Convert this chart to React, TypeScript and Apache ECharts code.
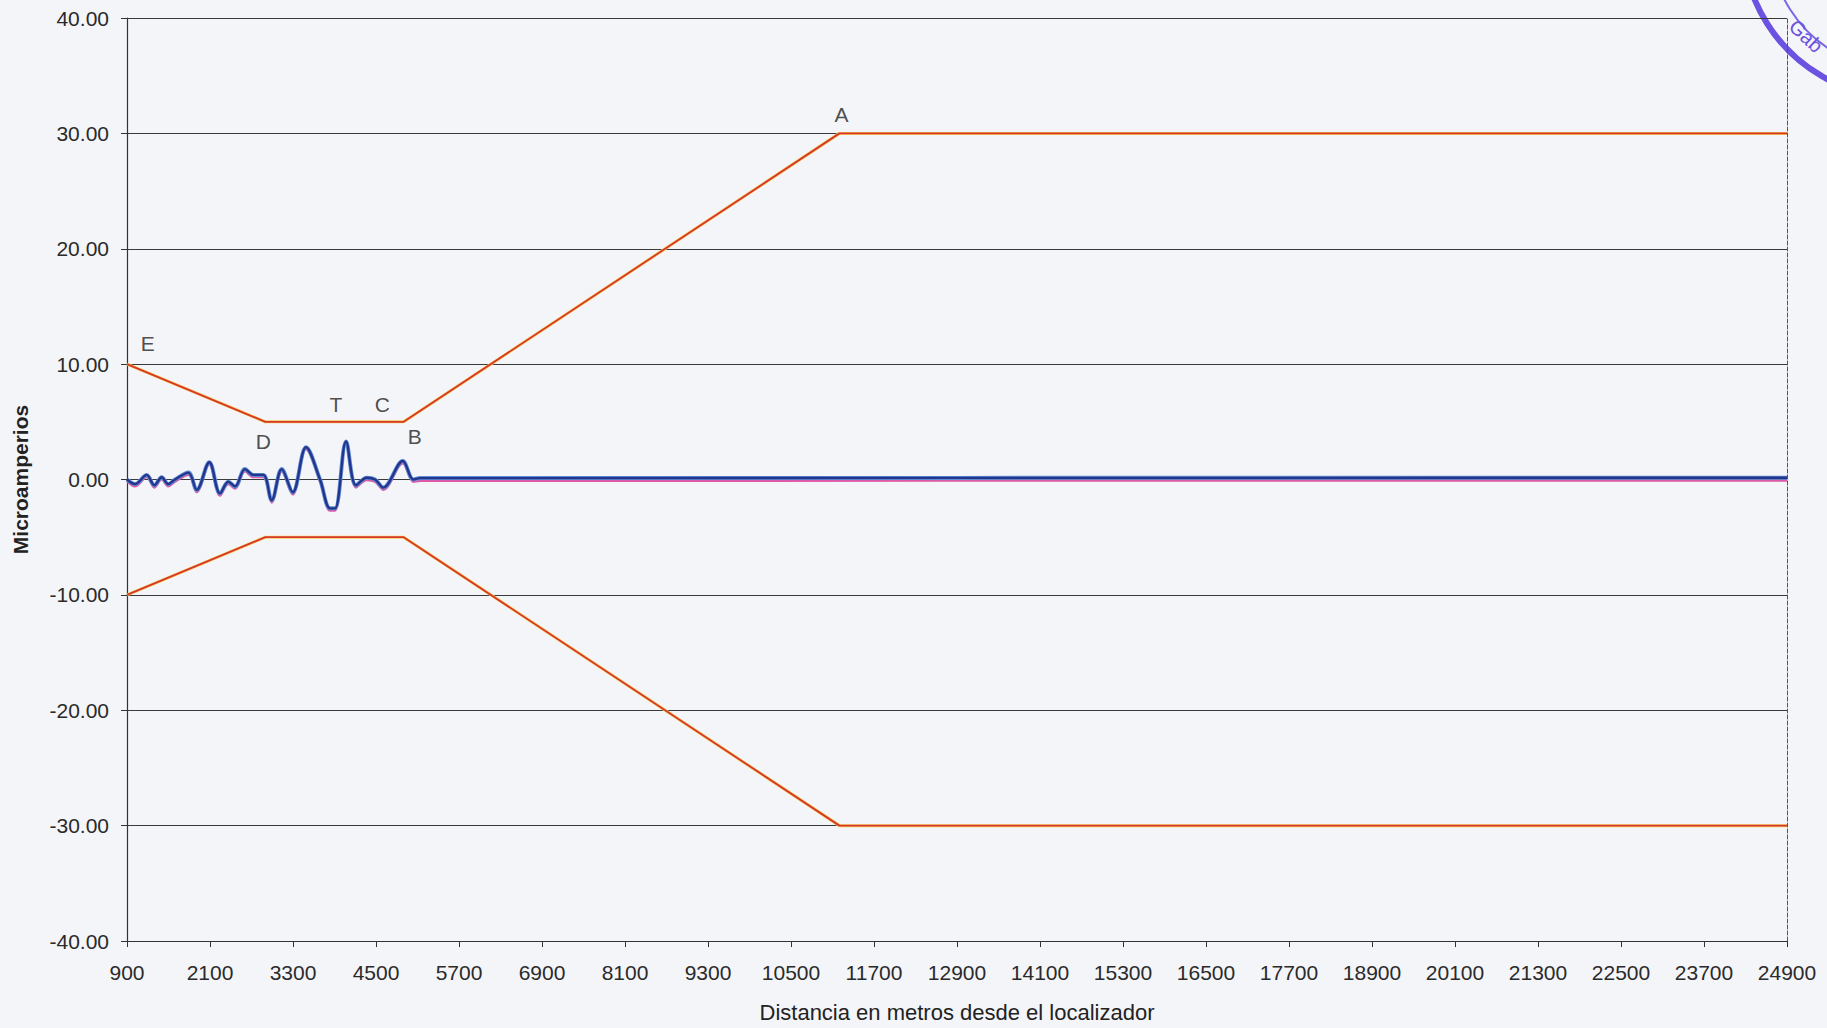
import React, { useEffect, useRef } from "react";
import * as echarts from "echarts";

// Axis ticks
const xMin = 900;
const xMax = 24900;
const xStep = 1200;
const yMin = -40;
const yMax = 40;
const yStep = 10;

// Limit lines (distance in metres, microamperes)
const limitX = [900, 2900, 4900, 11200, 24900];
const upperLimit = [10, 5, 5, 30, 30];
const lowerLimit = [-10, -5, -5, -30, -30];

// Measured signals
const distX = [900, 1016, 1185, 1295, 1401, 1497, 1594, 1787, 1908, 2090, 2245, 2365, 2462, 2606, 2727, 2871, 2992, 3137, 3296, 3488, 3691, 3835, 3908, 4067, 4211, 4366, 4486, 4606, 4887, 5040, 5137, 24900];
const blueVals = [0.0, -0.4, 0.4, -0.5, 0.2, -0.4, 0.0, 0.6, -0.9, 1.5, -1.2, -0.2, -0.6, 0.9, 0.4, 0.4, -1.8, 0.9, -1.1, 2.8, 0.0, -2.5, -2.5, 3.3, -0.5, 0.15, 0.0, -0.7, 1.6, 0.0, 0.12, 0.15];
const magentaVals = [-0.15, -0.6, 0.2, -0.7, 0.0, -0.6, -0.2, 0.4, -1.1, 1.3, -1.4, -0.4, -0.8, 0.7, 0.2, 0.2, -2.0, 0.7, -1.3, 2.6, -0.2, -2.7, -2.7, 3.1, -0.7, -0.05, -0.2, -0.9, 1.4, -0.2, -0.12, -0.1];

// Point annotations
const markLabels = ["E", "D", "T", "C", "B", "A"];
const markX = [1200, 2870, 3920, 4590, 5060, 11230];
const markY = [11.8, 3.3, 6.5, 6.5, 3.7, 31.6];

const FONT = "Liberation Sans, Arial, sans-serif";

export default function App() {
  const ref = useRef<HTMLDivElement>(null);
  useEffect(() => {
    if (!ref.current) return;
    const chart = echarts.init(ref.current, undefined, { renderer: "svg" });
    const pair = (xs: number[], ys: number[]) => xs.map((x, i) => [x, ys[i]]);
    chart.setOption({
      animation: false,
      backgroundColor: "#f4f5f9",
      textStyle: { fontFamily: FONT },
      grid: { left: 127, right: 40, top: 18, bottom: 81, containLabel: false },
      xAxis: {
        type: "value",
        min: xMin,
        max: xMax,
        interval: xStep,
        name: "Distancia en metros desde el localizador",
        nameLocation: "middle",
        nameGap: 60,
        nameTextStyle: { fontSize: 22, color: "#222", fontFamily: FONT },
        axisLine: { show: true, onZero: false, lineStyle: { color: "#333", width: 1.2 } },
        axisTick: { show: true, inside: false, length: 6, lineStyle: { color: "#333" } },
        axisLabel: {
          fontSize: 21,
          color: "#2a2a2a",
          margin: 21,
          fontFamily: FONT,
          formatter: (v: number) => String(v),
        },
        splitLine: { show: false },
      },
      yAxis: [
        {
          type: "value",
          min: yMin,
          max: yMax,
          interval: yStep,
          name: "Microamperios",
          nameLocation: "middle",
          nameGap: 96,
          nameTextStyle: { fontSize: 21, fontWeight: "bold", color: "#222", fontFamily: FONT },
          axisLine: { show: true, onZero: false, lineStyle: { color: "#333", width: 1.2 } },
          axisTick: { show: true, inside: false, length: 6, lineStyle: { color: "#333" } },
          axisLabel: {
            fontSize: 21,
            color: "#2a2a2a",
            margin: 18,
            fontFamily: FONT,
            formatter: (v: number) => v.toFixed(2),
          },
          splitLine: { show: true, lineStyle: { color: "#3a3a3a", width: 1 } },
        },
        {
          type: "value",
          min: yMin,
          max: yMax,
          interval: yStep,
          position: "right",
          axisLine: { show: true, onZero: false, lineStyle: { color: "#555", width: 1, type: "dashed" } },
          axisTick: { show: false },
          axisLabel: { show: false },
          splitLine: { show: false },
        },
      ],
      series: [
        {
          name: "Límite superior (halo)",
          type: "line",
          data: pair(limitX, upperLimit),
          showSymbol: false,
          lineStyle: { color: "#f6cc55", width: 3 },
          z: 2,
        },
        {
          name: "Límite superior",
          type: "line",
          data: pair(limitX, upperLimit),
          showSymbol: false,
          lineStyle: { color: "#d6392b", width: 1.8 },
          z: 3,
        },
        {
          name: "Límite inferior (halo)",
          type: "line",
          data: pair(limitX, lowerLimit),
          showSymbol: false,
          lineStyle: { color: "#f6cc55", width: 3 },
          z: 2,
        },
        {
          name: "Límite inferior",
          type: "line",
          data: pair(limitX, lowerLimit),
          showSymbol: false,
          lineStyle: { color: "#d6392b", width: 1.8 },
          z: 3,
        },
        {
          name: "Señal 2",
          type: "line",
          data: pair(distX, magentaVals),
          showSymbol: false,
          smooth: 0.35,
          lineStyle: { color: "#dd5aa8", width: 2.2 },
          z: 4,
        },
        {
          name: "Señal 1 (halo)",
          type: "line",
          data: pair(distX, blueVals),
          showSymbol: false,
          smooth: 0.35,
          lineStyle: { color: "#5f8fd8", width: 4 },
          z: 5,
        },
        {
          name: "Señal 1",
          type: "line",
          data: pair(distX, blueVals),
          showSymbol: false,
          smooth: 0.35,
          lineStyle: { color: "#23368c", width: 2.4 },
          z: 6,
        },
        {
          name: "Puntos",
          type: "scatter",
          symbolSize: 1,
          itemStyle: { color: "transparent" },
          data: markLabels.map((n, i) => ({ name: n, value: [markX[i], markY[i]] })),
          label: {
            show: true,
            position: "inside",
            formatter: "{b}",
            fontSize: 21,
            color: "#222",
            fontFamily: FONT,
          },
          z: 7,
        },
      ],
      graphic: [
        {
          type: "circle",
          silent: true,
          shape: { cx: 1900, cy: -60, r: 157 },
          style: { fill: "none", stroke: "#6b52e0", lineWidth: 6 },
        },
        {
          type: "circle",
          silent: true,
          shape: { cx: 1900, cy: -60, r: 130 },
          style: { fill: "none", stroke: "#7a66e6", lineWidth: 2 },
        },
        {
          type: "text",
          silent: true,
          x: 1806,
          y: 36,
          rotation: -0.75,
          style: {
            text: "Gab",
            fill: "#6b52e0",
            font: "20px " + FONT,
            textAlign: "center",
            textVerticalAlign: "middle",
          },
        },
      ],
    });
    return () => chart.dispose();
  }, []);
  return (
    <div
      ref={ref}
      style={{ position: "fixed", left: 0, top: 0, width: 1827, height: 1028, background: "#f4f5f9" }}
    />
  );
}
